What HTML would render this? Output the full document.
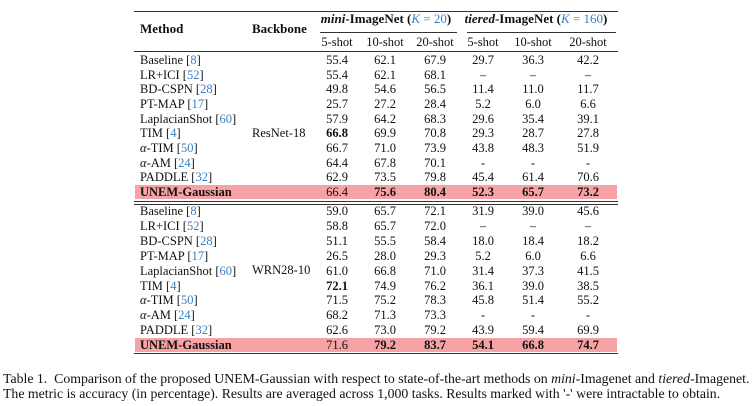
<!DOCTYPE html>
<html><head><style>
body{margin:0;width:754px;height:406px;background:#fff;position:relative;font-family:"Liberation Serif",serif;font-size:12.5px;color:#111;overflow:hidden}
.t{position:absolute;white-space:nowrap;line-height:14px;height:14px}
.c{transform:translateX(-50%)}
.r{position:absolute;background:#333}
.b{font-weight:bold}
.l{color:#3b7fc4}
.hl{position:absolute;left:135px;width:482px;background:#f7a3a6}
</style></head><body>
<div class="r" style="left:134px;top:11px;width:484px;height:1.2px"></div>
<div class="t b" style="left:140px;top:22px;font-size:13px">Method</div>
<div class="t b" style="left:252px;top:22px;font-size:13px">Backbone</div>
<div class="t b c" style="left:386px;top:12px;font-size:13px"><i>mini</i>-ImageNet (<span class="l" style="font-weight:normal"><i>K</i> = 20</span>)</div>
<div class="t b c" style="left:536px;top:12px;font-size:13px"><i>tiered</i>-ImageNet (<span class="l" style="font-weight:normal"><i>K</i> = 160</span>)</div>
<div class="r" style="left:320px;top:32px;width:137px;height:0.8px"></div>
<div class="r" style="left:467px;top:32px;width:149px;height:0.8px"></div>
<div class="t c" style="left:337px;top:35px">5-shot</div>
<div class="t c" style="left:385px;top:35px">10-shot</div>
<div class="t c" style="left:435px;top:35px">20-shot</div>
<div class="t c" style="left:483px;top:35px">5-shot</div>
<div class="t c" style="left:533px;top:35px">10-shot</div>
<div class="t c" style="left:588px;top:35px">20-shot</div>
<div class="r" style="left:134px;top:51px;width:484px;height:1px"></div>
<div class="hl" style="top:185px;height:14px"></div>
<div class="r" style="left:134px;top:201px;width:484px;height:1px"></div>
<div class="r" style="left:134px;top:204px;width:484px;height:1px"></div>
<div class="hl" style="top:338px;height:14px"></div>
<div class="r" style="left:134px;top:353px;width:484px;height:1.2px"></div>
<div class="t" style="left:252px;top:126px">ResNet-18</div>
<div class="t" style="left:252px;top:263px">WRN28-10</div>
<div id="rows"></div>
<div class="t" style="left:3px;top:372px;font-size:13.8px">Table 1.&nbsp; Comparison of the proposed UNEM-Gaussian with respect to state-of-the-art methods on <i>mini</i>-Imagenet and <i>tiered</i>-Imagenet.</div>
<div class="t" style="left:3px;top:387px;font-size:13.8px">The metric is accuracy (in percentage). Results are averaged across 1,000 tasks. Results marked with '-' were intractable to obtain.</div>
<script>
var m=['Baseline [<span class="l">8</span>]','LR+ICI [<span class="l">52</span>]','BD-CSPN [<span class="l">28</span>]','PT-MAP [<span class="l">17</span>]','LaplacianShot [<span class="l">60</span>]','TIM [<span class="l">4</span>]','<i>α</i>-TIM [<span class="l">50</span>]','<i>α</i>-AM [<span class="l">24</span>]','PADDLE [<span class="l">32</span>]','<b>UNEM-Gaussian</b>'];
var d1=[["55.4","62.1","67.9","29.7","36.3","42.2"],["55.4","62.1","68.1","–","–","–"],["49.8","54.6","56.5","11.4","11.0","11.7"],["25.7","27.2","28.4","5.2","6.0","6.6"],["57.9","64.2","68.3","29.6","35.4","39.1"],["<b>66.8</b>","69.9","70.8","29.3","28.7","27.8"],["66.7","71.0","73.9","43.8","48.3","51.9"],["64.4","67.8","70.1","-","-","-"],["62.9","73.5","79.8","45.4","61.4","70.6"],["66.4","<b>75.6</b>","<b>80.4</b>","<b>52.3</b>","<b>65.7</b>","<b>73.2</b>"]];
var d2=[["59.0","65.7","72.1","31.9","39.0","45.6"],["58.8","65.7","72.0","–","–","–"],["51.1","55.5","58.4","18.0","18.4","18.2"],["26.5","28.0","29.3","5.2","6.0","6.6"],["61.0","66.8","71.0","31.4","37.3","41.5"],["<b>72.1</b>","74.9","76.2","36.1","39.0","38.5"],["71.5","75.2","78.3","45.8","51.4","55.2"],["68.2","71.3","73.3","-","-","-"],["62.6","73.0","79.2","43.9","59.4","69.9"],["71.6","<b>79.2</b>","<b>83.7</b>","<b>54.1</b>","<b>66.8</b>","<b>74.7</b>"]];
var xs=[337,385,435,483,533,588],h='';
function blk(d,y0,st){for(var i=0;i<10;i++){var y=y0+i*st-7;h+='<div class="t" style="left:140px;top:'+y+'px">'+m[i]+'</div>';for(var j=0;j<6;j++)h+='<div class="t c" style="left:'+xs[j]+'px;top:'+y+'px">'+d[i][j]+'</div>';}}
blk(d1,60,14.67);blk(d2,211,14.9);
document.getElementById('rows').innerHTML=h;
</script>
</body></html>
